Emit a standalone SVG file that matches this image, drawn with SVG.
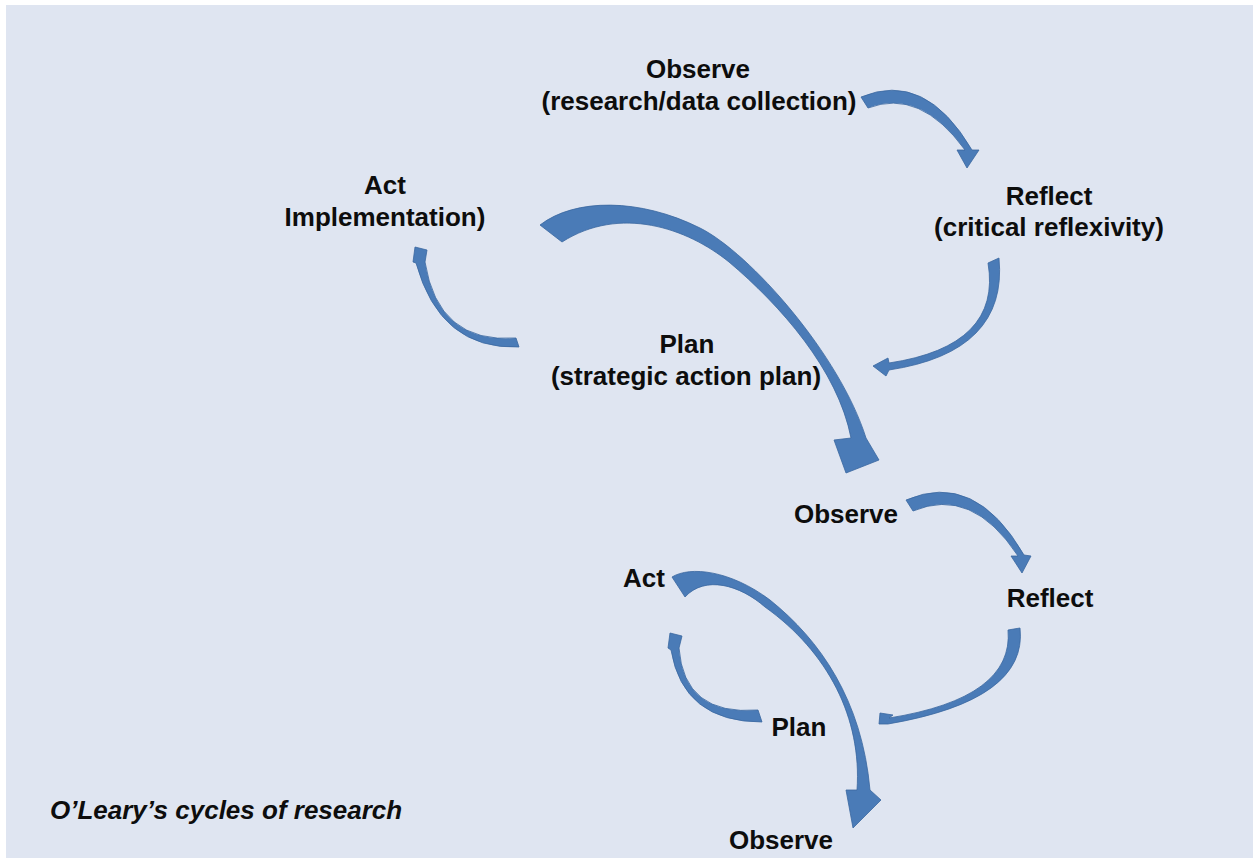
<svg xmlns="http://www.w3.org/2000/svg" width="1253" height="858" viewBox="0 0 1253 858">
<style>
.bg{fill:#dfe5f1}
.lbl{font-family:"Liberation Sans",Arial,sans-serif;font-weight:bold;font-size:26px;fill:#0d0d0d;text-anchor:middle}
.cap{font-family:"Liberation Sans",Arial,sans-serif;font-weight:bold;font-style:italic;font-size:26px;fill:#0d0d0d}
.arr{fill:#4a7bb7;stroke:#3a679f;stroke-width:0.8;stroke-linejoin:round}
</style>
<rect x="0" y="0" width="1253" height="858" fill="#ffffff"/>
<rect class="bg" x="6" y="5" width="1247" height="853"/>
<g id="connectors">
<path id="c-observe1-reflect1" class="arr" d="M861,97 Q925,70 972,150 L979,150 L967,168 L957,150 L965,150 Q920,88 868,108 Z"/>
<path id="c-reflect1-plan1" class="arr" d="M999,258 Q1008,352 889,370 L886,376 L873,366 L888,358 L889,363 Q1002,346 988,263 Z"/>
<path id="c-plan1-act1" class="arr" d="M519,347 Q440,350 416,263 L413,262 L415,247 L427,250 L425,262 Q438,344 516,338 Z"/>
<path id="c-act1-observe2" class="arr" d="M540,225 C575,198 640,198 700,228 C750,253 840,355 866,438 L879,460 L846,473 L834,440 L851,438 C838,370 780,305 729,262 C687,228 620,205 562,242 Z"/>
<path id="c-observe2-reflect2" class="arr" d="M906,500 Q975,470 1024,555 L1031,556 L1022,573 L1011,556 L1018,556 Q972,486 913,511 Z"/>
<path id="c-reflect2-plan2" class="arr" d="M1020,628 Q1028,700 888,724 L879,724 L880,713 L893,715 L889,718 Q1014,698 1008,630 Z"/>
<path id="c-plan2-act2" class="arr" d="M762,722 Q683,722 671,650 L668,648 L670,633 L682,636 L679,648 Q684,716 758,710 Z"/>
<path id="c-act2-observe3" class="arr" d="M672,577 C690,566 730,570 770,600 C820,640 862,700 870,790 L881,800 L853,828 L846,790 L857,790 C862,718 828,652 765,607 C740,585 705,575 685,597 Z"/>
</g>
<g id="observe1"><text class="lbl" x="698" y="78">Observe</text><text class="lbl" x="699" y="110">(research/data collection)</text></g>
<g id="act1"><text class="lbl" x="385" y="194">Act</text><text class="lbl" x="385" y="226">Implementation)</text></g>
<g id="reflect1"><text class="lbl" x="1049" y="205">Reflect</text><text class="lbl" x="1049" y="236">(critical reflexivity)</text></g>
<g id="plan1"><text class="lbl" x="687" y="353">Plan</text><text class="lbl" x="686" y="385">(strategic action plan)</text></g>
<g id="observe2"><text class="lbl" x="846" y="523">Observe</text></g>
<g id="reflect2"><text class="lbl" x="1050" y="607">Reflect</text></g>
<g id="act2"><text class="lbl" x="644" y="587">Act</text></g>
<g id="plan2"><text class="lbl" x="799" y="736">Plan</text></g>
<g id="observe3"><text class="lbl" x="781" y="849">Observe</text></g>
<g id="caption"><text class="cap" x="50" y="819">O’Leary’s cycles of research</text></g>
</svg>
